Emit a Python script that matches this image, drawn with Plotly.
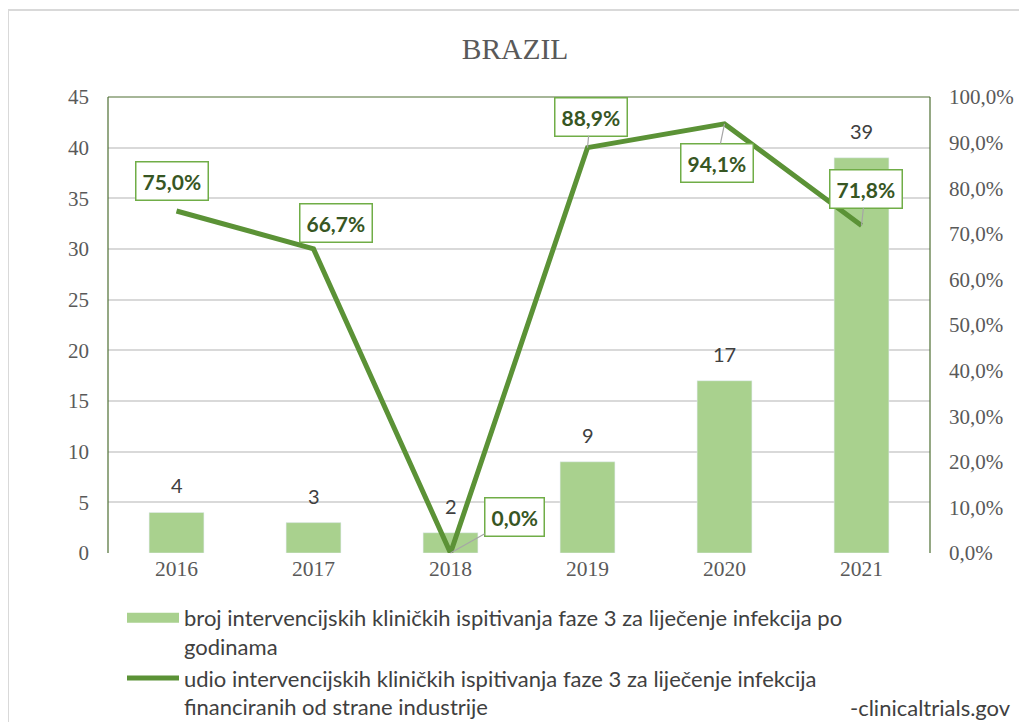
import plotly.graph_objects as go

years = ["2016", "2017", "2018", "2019", "2020", "2021"]
counts = [4, 3, 2, 9, 17, 39]
shares = [0.750, 0.667, 0.0, 0.889, 0.941, 0.718]
y_ticks = [0, 5, 10, 15, 20, 25, 30, 35, 40, 45]
y2_ticks = [0.0, 0.1, 0.2, 0.3, 0.4, 0.5, 0.6, 0.7, 0.8, 0.9, 1.0]
bar_name = "broj intervencijskih kliničkih ispitivanja faze 3 za liječenje infekcija po<br>godinama"
line_name = "udio intervencijskih kliničkih ispitivanja faze 3 za liječenje infekcija<br>financiranih od strane industrije"

# label placement (pixel offsets) and leader-line flags
label_dx = [-5, 22, 64, 3, -8, 4]
label_dy = [-30, -26, -36, -31, 39, -37]
leader = [False, False, True, True, True, True]

SERIF = "Liberation Serif, Times New Roman, serif"
SANS = "Lato, Carlito, sans-serif"
GRAY = "#595959"
BAR_COLOR = "#a9d18e"


def pct(v):
    return f"{v*100:.1f}".replace(".", ",") + "%"


xpos = list(range(len(years)))

fig = go.Figure()
fig.add_trace(go.Bar(
    x=xpos, y=counts, name=bar_name, marker_color=BAR_COLOR,
    width=0.4, showlegend=False,
))
fig.add_trace(go.Scatter(
    x=[None], y=[None], name=bar_name, mode="lines",
    line=dict(color=BAR_COLOR, width=12), hoverinfo="skip",
))
fig.add_trace(go.Scatter(
    x=xpos, y=shares, name=line_name, mode="lines",
    line=dict(color="#5b9236", width=5), yaxis="y2",
))

# page body adds an 8px offset; compensate
OFF = 8
W, H = 1027, 722
L, R, T, B = 108 - OFF, 97 + OFF, 97 - OFF, 169 + OFF
pw, ph = W - L - R, H - T - B


def px_x(px):
    return (px - OFF - L) / pw


def px_y(py):
    return (H - B - (py - OFF)) / ph


annotations = []
for xp, c in zip(xpos, counts):
    annotations.append(dict(
        x=xp, y=c, xref="x", yref="y", text=str(c), showarrow=False,
        yanchor="bottom", yshift=13, font=dict(family=SANS, size=20, color="#404040"),
    ))

for xp, s, dx, dy, ld in zip(xpos, shares, label_dx, label_dy, leader):
    common = dict(
        x=xp, y=s, xref="x", yref="y2", text="<b>" + pct(s) + "</b>",
        font=dict(family=SANS, size=21, color="#375623"),
        bgcolor="white", bordercolor="#70ad47", borderwidth=1.5, borderpad=6,
    )
    if ld:
        annotations.append(dict(
            **common, showarrow=True, ax=dx, ay=dy, axref="pixel", ayref="pixel",
            arrowhead=0, arrowwidth=1.2, arrowcolor="#a6a6a6", standoff=0,
        ))
    else:
        annotations.append(dict(**common, showarrow=False, xshift=dx, yshift=-dy))

annotations.append(dict(
    x=px_x(1013), y=px_y(707), xref="paper", yref="paper", text="-clinicaltrials.gov",
    showarrow=False, font=dict(family=SANS, size=22, color="#404040"),
    xanchor="right", yanchor="middle",
))

fig.update_layout(
    width=W, height=H,
    margin=dict(l=L, r=R, t=T, b=B, autoexpand=False),
    paper_bgcolor="white", plot_bgcolor="white",
    title=dict(text="BRAZIL", x=px_x(515), xref="paper", xanchor="center",
               y=1 - (49 - OFF) / H, yanchor="middle",
               font=dict(family=SERIF, size=29.5, color=GRAY)),
    xaxis=dict(
        range=[-0.5, len(years) - 0.5], tickvals=xpos, ticktext=years,
        showgrid=False, ticks="", automargin=False,
        tickfont=dict(family=SERIF, size=21.5, color=GRAY),
        showline=False, zeroline=False,
    ),
    yaxis=dict(
        range=[0, 45], tickvals=y_ticks, showgrid=True, gridcolor="#d9d9d9", gridwidth=1.5,
        tickfont=dict(family=SERIF, size=21, color=GRAY), ticks="", automargin=False,
        showline=False, zeroline=False, ticklabelstandoff=18,
    ),
    yaxis2=dict(
        range=[0, 1.0], tickvals=y2_ticks, ticktext=[pct(v) for v in y2_ticks],
        overlaying="y", side="right",
        showgrid=False, tickfont=dict(family=SERIF, size=21, color=GRAY), ticks="",
        automargin=False, showline=False, zeroline=False, ticklabelstandoff=18,
    ),
    legend=dict(
        orientation="v", x=px_x(122), y=px_y(597), xanchor="left", yanchor="top",
        font=dict(family=SANS, size=22, color="#404040"), itemwidth=52,
        bgcolor="rgba(0,0,0,0)", tracegroupgap=2, traceorder="normal", valign="top",
    ),
    showlegend=True,
    annotations=annotations,
    shapes=[
        dict(type="line", xref="paper", yref="paper", x0=0, x1=0, y0=0, y1=1,
             line=dict(color="#4e6e32", width=1.2)),
        dict(type="line", xref="paper", yref="paper", x0=0, x1=1, y0=1, y1=1,
             line=dict(color="#4e6e32", width=1.2)),
        dict(type="line", xref="paper", yref="paper", x0=1, x1=1, y0=0, y1=1,
             line=dict(color="#4e6e32", width=1.2)),
        dict(type="rect", xref="paper", yref="paper", x0=px_x(8), x1=px_x(1025),
             y0=px_y(730), y1=px_y(10), line=dict(color="#d9d9d9", width=2), layer="below"),
    ],
)

fig.write_html("out.html")
